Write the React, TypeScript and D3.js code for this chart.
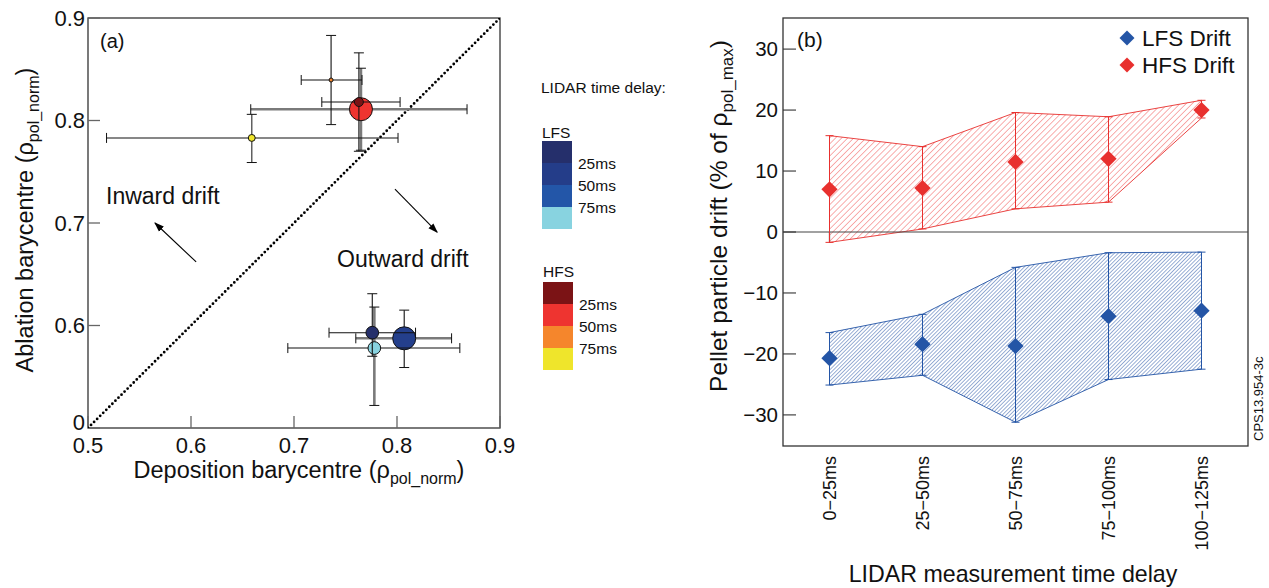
import React from 'react';
import * as d3 from 'd3';

const FONT = "'Liberation Sans', Arial, Helvetica, sans-serif";

// ---------- Panel (a) data ----------
const aXTickValues = [0.5, 0.6, 0.7, 0.8, 0.9];
const aXTickLabels = ['0.5', '0.6', '0.7', '0.8', '0.9'];
const aYTickValues = [0.5, 0.6, 0.7, 0.8, 0.9];
const aYTickLabels = ['0', '0.6', '0.7', '0.8', '0.9'];

// draw order: larger markers first
const aPoints = [
  { id: 'HFS 25-50ms', x: 0.765, y: 0.811, xLo: 0.658, xHi: 0.868, yLo: 0.771, yHi: 0.851, n: 33 },
  { id: 'LFS 25-50ms', x: 0.807, y: 0.5875, xLo: 0.76, xHi: 0.853, yLo: 0.559, yHi: 0.615, n: 33 },
  { id: 'HFS 75-100ms', x: 0.659, y: 0.783, xLo: 0.518, xHi: 0.801, yLo: 0.759, yHi: 0.806, n: 3 },
  { id: 'HFS 50-75ms', x: 0.736, y: 0.8395, xLo: 0.707, xHi: 0.766, yLo: 0.796, yHi: 0.883, n: 1 },
  { id: 'HFS 0-25ms', x: 0.763, y: 0.818, xLo: 0.727, xHi: 0.803, yLo: 0.77, yHi: 0.866, n: 5 },
  { id: 'LFS 75-100ms', x: 0.778, y: 0.578, xLo: 0.694, xHi: 0.861, yLo: 0.522, yHi: 0.618, n: 10 },
  { id: 'LFS 0-25ms', x: 0.776, y: 0.593, xLo: 0.734, xHi: 0.818, yLo: 0.57, yHi: 0.631, n: 10 },
];

const lidarDelayLabels = ['25ms', '50ms', '75ms'];
const lfsLegendColors = ['#252f6b', '#243d89', '#2356a8', '#88d3e0'];
const hfsLegendColors = ['#7b1315', '#ee3430', '#f5862c', '#efe52b'];

const inwardArrow = { from: [0.605, 0.662], to: [0.565, 0.700] };
const outwardArrow = { from: [0.798, 0.733], to: [0.839, 0.691] };

// ---------- Panel (b) data ----------
const bCategories = ['0\u221225ms', '25\u221250ms', '50\u221275ms', '75\u2212100ms', '100\u2212125ms'];
const bYTicks = [30, 20, 10, 0, -10, -20, -30];
const hfsDrift = [7.0, 7.2, 11.5, 12.0, 20.0];
const hfsUpper = [15.8, 14.0, 19.6, 18.9, 21.6];
const hfsLower = [-1.7, 0.5, 3.8, 4.9, 18.7];
const lfsDrift = [-20.7, -18.4, -18.7, -13.8, -12.9];
const lfsUpper = [-16.5, -13.5, -5.8, -3.4, -3.3];
const lfsLower = [-25.1, -23.5, -31.2, -24.2, -22.5];

// ---------- styles ----------
const pointColor: Record<string, string> = {
  'HFS 0-25ms': '#7b1315',
  'HFS 25-50ms': '#ee3430',
  'HFS 50-75ms': '#f5862c',
  'HFS 75-100ms': '#efe52b',
  'LFS 0-25ms': '#252f6b',
  'LFS 25-50ms': '#243f8c',
  'LFS 75-100ms': '#88d3e0',
};
const barStyle: Record<string, { x: string; y: string }> = {
  'HFS 25-50ms': { x: 'thick', y: 'thick' },
  'LFS 25-50ms': { x: 'thick', y: 'thin' },
  'HFS 75-100ms': { x: 'thin', y: 'gray' },
  'HFS 50-75ms': { x: 'thin', y: 'thin' },
  'HFS 0-25ms': { x: 'thin', y: 'thin' },
  'LFS 75-100ms': { x: 'thin', y: 'thick' },
  'LFS 0-25ms': { x: 'thin', y: 'thin' },
};
const lineStyles: Record<string, { stroke: string; w: number }> = {
  thick: { stroke: '#7a7a7a', w: 2.6 },
  thin: { stroke: '#111', w: 1.1 },
  gray: { stroke: '#555', w: 1.4 },
};

const RED = '#e8302e';
const BLUE = '#2455a6';

export default function App() {
  const ax = d3.scaleLinear().domain([0.5, 0.9]).range([88, 500]);
  const ay = d3.scaleLinear().domain([0.5, 0.9]).range([428, 18]);
  const rScale = d3.scaleSqrt().domain([0, 33]).range([0, 11.5]);

  const bx = d3.scaleBand<string>().domain(bCategories).range([783, 1248]);
  const bcx = (c: string) => (bx(c) as number) + bx.bandwidth() / 2;
  const by = d3.scaleLinear().domain([-35.1, 35.1]).range([446, 18]);

  const hfsArea = d3
    .area<number>()
    .x((_, i) => bcx(bCategories[i]))
    .y0((_, i) => by(hfsLower[i]))
    .y1((_, i) => by(hfsUpper[i]));
  const lfsArea = d3
    .area<number>()
    .x((_, i) => bcx(bCategories[i]))
    .y0((_, i) => by(lfsLower[i]))
    .y1((_, i) => by(lfsUpper[i]));
  const edgeLine = (arr: number[]) =>
    d3.line<number>().x((_, i) => bcx(bCategories[i])).y((v) => by(v))(arr) as string;

  const diamond = (size: number) => d3.symbol().type(d3.symbolSquare).size(size)() as string;

  const cap = 5;
  const bCap = 4;

  return (
    <svg
      width={1269}
      height={588}
      style={{ position: 'absolute', left: 0, top: 0, background: '#fff' }}
      fontFamily={FONT}
    >
      <defs>
        <marker id="arrowHead" viewBox="0 0 10 10" refX="9" refY="5" markerWidth="9" markerHeight="9" orient="auto">
          <path d="M0,1.5 L10,5 L0,8.5 Z" fill="#000" />
        </marker>
        <pattern id="hatchRed" patternUnits="userSpaceOnUse" width="4.3" height="10" patternTransform="rotate(45)">
          <line x1="0" y1="0" x2="0" y2="10" stroke="#f04848" strokeWidth="0.9" />
        </pattern>
        <pattern id="hatchBlue" patternUnits="userSpaceOnUse" width="2.7" height="10" patternTransform="rotate(45)">
          <line x1="0" y1="0" x2="0" y2="10" stroke="#2a57a8" strokeWidth="0.95" />
        </pattern>
        <clipPath id="clipA">
          <rect x={88} y={18} width={412} height={410} />
        </clipPath>
      </defs>

      {/* ================= Panel (a) ================= */}
      <rect x={88} y={18} width={412} height={410} fill="#fff" stroke="#333" strokeWidth={1.3} />
      {aYTickValues.map((v) => (
        <line key={'ayt' + v} x1={88} x2={100} y1={ay(v)} y2={ay(v)} stroke="#666" strokeWidth={1.3} />
      ))}
      {aXTickValues.map((v) => (
        <line key={'axt' + v} x1={ax(v)} x2={ax(v)} y1={428} y2={416} stroke="#666" strokeWidth={1.3} />
      ))}
      {aYTickValues.map((v, i) => (
        <text
          key={'ayl' + v}
          x={85}
          y={i === 0 ? 430 : ay(v)}
          dy={i === 0 ? 0 : '0.36em'}
          textAnchor="end"
          fontSize={22}
          fill="#111"
        >
          {aYTickLabels[i]}
        </text>
      ))}
      {aXTickValues.map((v, i) => (
        <text key={'axl' + v} x={ax(v)} y={453} textAnchor="middle" fontSize={22} fill="#111">
          {aXTickLabels[i]}
        </text>
      ))}
      <line
        x1={ax(0.5)}
        y1={ay(0.5)}
        x2={ax(0.9)}
        y2={ay(0.9)}
        stroke="#000"
        strokeWidth={2.8}
        strokeDasharray="0 4.3"
        strokeLinecap="round"
        clipPath="url(#clipA)"
      />
      <line
        x1={ax(inwardArrow.from[0])}
        y1={ay(inwardArrow.from[1])}
        x2={ax(inwardArrow.to[0])}
        y2={ay(inwardArrow.to[1])}
        stroke="#000"
        strokeWidth={1.1}
        markerEnd="url(#arrowHead)"
      />
      <line
        x1={ax(outwardArrow.from[0])}
        y1={ay(outwardArrow.from[1])}
        x2={ax(outwardArrow.to[0])}
        y2={ay(outwardArrow.to[1])}
        stroke="#000"
        strokeWidth={1.1}
        markerEnd="url(#arrowHead)"
      />
      <text x={106} y={204} fontSize={23} fill="#111">Inward drift</text>
      <text x={337} y={267} fontSize={23} fill="#111">Outward drift</text>
      <text x={100} y={48} fontSize={20} fill="#111">(a)</text>

      {aPoints.map((p) => {
        const sx = lineStyles[barStyle[p.id].x];
        const sy = lineStyles[barStyle[p.id].y];
        const cx = ax(p.x);
        const cy = ay(p.y);
        return (
          <g key={p.id}>
            <line x1={ax(p.xLo)} x2={ax(p.xHi)} y1={cy} y2={cy} stroke={sx.stroke} strokeWidth={sx.w} />
            <line x1={cx} x2={cx} y1={ay(p.yLo)} y2={ay(p.yHi)} stroke={sy.stroke} strokeWidth={sy.w} />
            <line x1={ax(p.xLo)} x2={ax(p.xLo)} y1={cy - cap} y2={cy + cap} stroke="#111" strokeWidth={1} />
            <line x1={ax(p.xHi)} x2={ax(p.xHi)} y1={cy - cap} y2={cy + cap} stroke="#111" strokeWidth={1} />
            <line x1={cx - cap} x2={cx + cap} y1={ay(p.yLo)} y2={ay(p.yLo)} stroke="#111" strokeWidth={1} />
            <line x1={cx - cap} x2={cx + cap} y1={ay(p.yHi)} y2={ay(p.yHi)} stroke="#111" strokeWidth={1} />
            <circle cx={cx} cy={cy} r={rScale(p.n)} fill={pointColor[p.id]} stroke="#111" strokeWidth={1} />
          </g>
        );
      })}

      <text x={299} y={478} textAnchor="middle" fontSize={23.5} fill="#111">
        Deposition barycentre (ρ
        <tspan fontSize={16} dy={6}>pol_norm</tspan>
        <tspan dy={-6}>)</tspan>
      </text>
      <text transform="translate(33,220) rotate(-90)" textAnchor="middle" fontSize={23.5} fill="#111">
        Ablation barycentre (ρ
        <tspan fontSize={16} dy={6}>pol_norm</tspan>
        <tspan dy={-6}>)</tspan>
      </text>

      {/* legend (a) */}
      <text x={541} y={93} fontSize={15.5} fill="#111">LIDAR time delay:</text>
      <text x={542} y={138} fontSize={15.5} fill="#111">LFS</text>
      {lfsLegendColors.map((c, i) => (
        <rect key={'lfsl' + i} x={542} y={141 + i * 22} width={30} height={22} fill={c} />
      ))}
      {lidarDelayLabels.map((l, i) => (
        <text key={'lfst' + l} x={578} y={163 + i * 22} dy="0.36em" fontSize={15.5} fill="#111">
          {l}
        </text>
      ))}
      <text x={543} y={277} fontSize={15.5} fill="#111">HFS</text>
      {hfsLegendColors.map((c, i) => (
        <rect key={'hfsl' + i} x={543} y={282 + i * 22} width={30} height={22} fill={c} />
      ))}
      {lidarDelayLabels.map((l, i) => (
        <text key={'hfst' + l} x={579} y={304 + i * 22} dy="0.36em" fontSize={15.5} fill="#111">
          {l}
        </text>
      ))}

      {/* ================= Panel (b) ================= */}
      <rect x={783} y={18} width={465} height={428} fill="#fff" stroke="#333" strokeWidth={1.3} />
      <path d={hfsArea(hfsDrift) as string} fill="url(#hatchRed)" stroke="none" />
      <path d={edgeLine(hfsUpper)} fill="none" stroke={RED} strokeWidth={0.9} />
      <path d={edgeLine(hfsLower)} fill="none" stroke={RED} strokeWidth={0.9} />
      <path d={lfsArea(lfsDrift) as string} fill="url(#hatchBlue)" stroke="none" />
      <path d={edgeLine(lfsUpper)} fill="none" stroke={BLUE} strokeWidth={0.9} />
      <path d={edgeLine(lfsLower)} fill="none" stroke={BLUE} strokeWidth={0.9} />
      <line x1={783} x2={1248} y1={by(0)} y2={by(0)} stroke="#444" strokeWidth={1.1} />
      <line
        x1={bcx(bCategories[0])}
        x2={bcx(bCategories[0])}
        y1={by(0)}
        y2={by(hfsLower[0])}
        stroke="#111"
        strokeWidth={1.2}
      />
      {bCategories.map((c, i) => (
        <g key={'eb' + c}>
          <line x1={bcx(c)} x2={bcx(c)} y1={by(hfsLower[i])} y2={by(hfsUpper[i])} stroke={RED} strokeWidth={1} />
          <line x1={bcx(c) - bCap} x2={bcx(c) + bCap} y1={by(hfsLower[i])} y2={by(hfsLower[i])} stroke={RED} strokeWidth={1} />
          <line x1={bcx(c) - bCap} x2={bcx(c) + bCap} y1={by(hfsUpper[i])} y2={by(hfsUpper[i])} stroke={RED} strokeWidth={1} />
          <line x1={bcx(c)} x2={bcx(c)} y1={by(lfsLower[i])} y2={by(lfsUpper[i])} stroke={BLUE} strokeWidth={1} />
          <line x1={bcx(c) - bCap} x2={bcx(c) + bCap} y1={by(lfsLower[i])} y2={by(lfsLower[i])} stroke={BLUE} strokeWidth={1} />
          <line x1={bcx(c) - bCap} x2={bcx(c) + bCap} y1={by(lfsUpper[i])} y2={by(lfsUpper[i])} stroke={BLUE} strokeWidth={1} />
        </g>
      ))}
      {bCategories.map((c, i) => (
        <g key={'dm' + c}>
          <path d={diamond(132)} transform={`translate(${bcx(c)},${by(hfsDrift[i])}) rotate(45)`} fill={RED} />
          <path d={diamond(132)} transform={`translate(${bcx(c)},${by(lfsDrift[i])}) rotate(45)`} fill={BLUE} />
        </g>
      ))}
      {bYTicks.map((t) => (
        <line key={'byt' + t} x1={783} x2={796} y1={by(t)} y2={by(t)} stroke="#333" strokeWidth={1.1} />
      ))}
      {bYTicks.map((t) => (
        <text key={'byl' + t} x={778} y={by(t)} dy="0.36em" textAnchor="end" fontSize={20.5} fill="#111">
          {t < 0 ? '\u2212' + Math.abs(t) : String(t)}
        </text>
      ))}
      {bCategories.map((c) => (
        <text
          key={'bxl' + c}
          transform={`translate(${bcx(c)},456) rotate(-90)`}
          dy="0.36em"
          textAnchor="end"
          fontSize={18}
          fill="#111"
        >
          {c}
        </text>
      ))}
      <text x={1013} y={582} textAnchor="middle" fontSize={23.2} fill="#111">
        LIDAR measurement time delay
      </text>
      <text transform="translate(727,216) rotate(-90)" textAnchor="middle" fontSize={24.5} fill="#111">
        Pellet particle drift (% of ρ
        <tspan fontSize={17} dy={6}>pol_max</tspan>
        <tspan dy={-6}>)</tspan>
      </text>
      <text x={797} y={47} fontSize={21} fill="#111">(b)</text>
      <path d={diamond(112)} transform="translate(1127,38) rotate(45)" fill={BLUE} />
      <text x={1142} y={46} fontSize={22.5} fill="#111">LFS Drift</text>
      <path d={diamond(112)} transform="translate(1127,65) rotate(45)" fill={RED} />
      <text x={1142} y={73} fontSize={22.5} fill="#111">HFS Drift</text>
      <text transform="translate(1263,441) rotate(-90)" fontSize={13} fill="#111">CPS13.954-3c</text>
    </svg>
  );
}
